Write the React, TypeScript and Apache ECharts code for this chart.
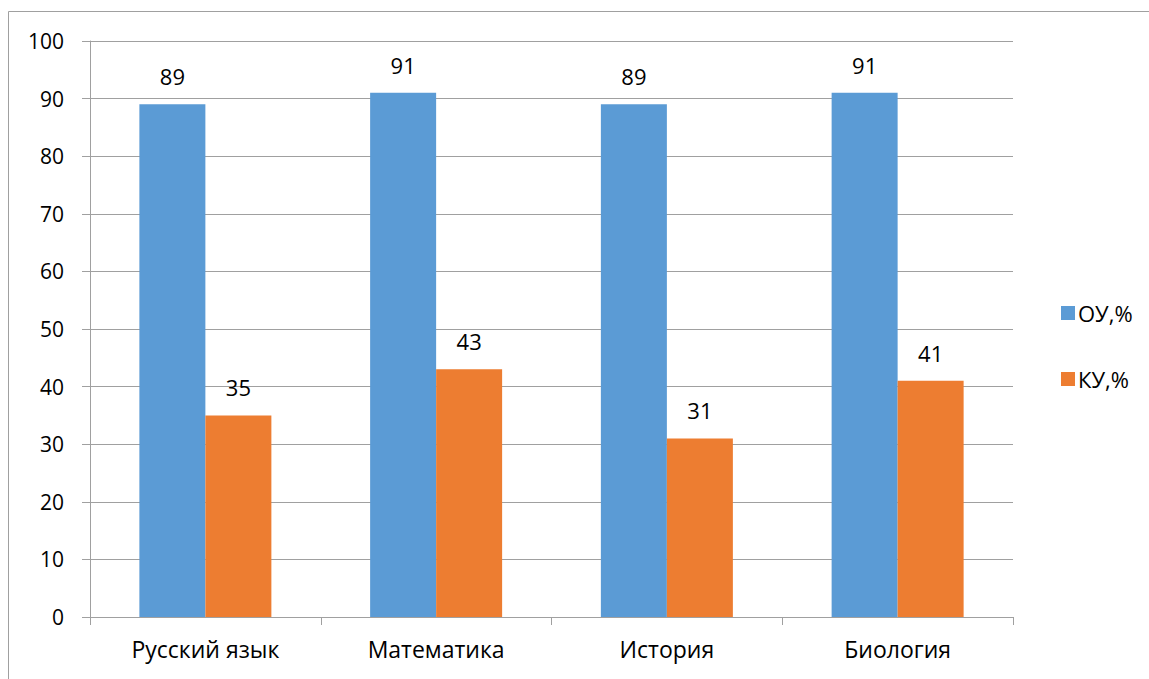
import React, { useEffect, useRef } from "react";
import * as echarts from "echarts";

const categories = ["Русский язык", "Математика", "История", "Биология"];
const ouValues = [89, 91, 89, 91];
const kuValues = [35, 43, 31, 41];
const seriesNames = ["ОУ,%", "КУ,%"];

const FONT = "'Open Sans', 'Noto Sans', sans-serif";

export default function App() {
  const ref = useRef<HTMLDivElement>(null);
  useEffect(() => {
    document.body.style.margin = "0";
    const chart = echarts.init(ref.current!, null, { renderer: "svg" });
    chart.setOption({
      animation: false,
      backgroundColor: "#ffffff",
      textStyle: { fontFamily: FONT },
      graphic: [
        {
          type: "rect",
          shape: { x: 8.5, y: 11.5, width: 2000, height: 2000 },
          style: { fill: "none", stroke: "#a0a0a0", lineWidth: 1 },
          silent: true,
        },
      ],
      legend: {
        orient: "vertical",
        left: 1056,
        top: 297,
        itemWidth: 14,
        itemHeight: 14,
        itemGap: 44,
        icon: "rect",
        textStyle: { fontFamily: FONT, fontSize: 22, color: "#000", padding: [0, 0, 0, -2] },
        data: seriesNames,
      },
      grid: { left: 90, top: 41, right: 136, bottom: 62, containLabel: false },
      xAxis: {
        type: "category",
        data: categories,
        axisLine: { show: true, lineStyle: { color: "#a0a0a0", width: 1 } },
        axisTick: { show: true, length: 8, alignWithLabel: false, lineStyle: { color: "#a0a0a0" } },
        axisLabel: { fontFamily: FONT, fontSize: 23, color: "#000", margin: 20 },
      },
      yAxis: {
        type: "value",
        min: 0,
        max: 100,
        interval: 10,
        axisLine: { show: true, lineStyle: { color: "#a0a0a0", width: 1 } },
        axisTick: { show: true, length: 8, lineStyle: { color: "#a0a0a0" } },
        splitLine: { show: true, lineStyle: { color: "#a0a0a0", width: 1 } },
        axisLabel: { fontFamily: FONT, fontSize: 21, color: "#000", margin: 26 },
      },
      series: [
        {
          name: seriesNames[0],
          type: "bar",
          data: ouValues,
          barWidth: 66,
          barGap: "0%",
          itemStyle: { color: "#5b9bd5" },
          label: { show: true, position: "top", distance: 17, fontFamily: FONT, fontSize: 22, color: "#000" },
        },
        {
          name: seriesNames[1],
          type: "bar",
          data: kuValues,
          barWidth: 66,
          barGap: "0%",
          itemStyle: { color: "#ed7d31" },
          label: { show: true, position: "top", distance: 17, fontFamily: FONT, fontSize: 22, color: "#000" },
        },
      ],
    });
    return () => chart.dispose();
  }, []);
  return <div ref={ref} style={{ position: "fixed", left: 0, top: 0, width: 1149, height: 679 }} />;
}
